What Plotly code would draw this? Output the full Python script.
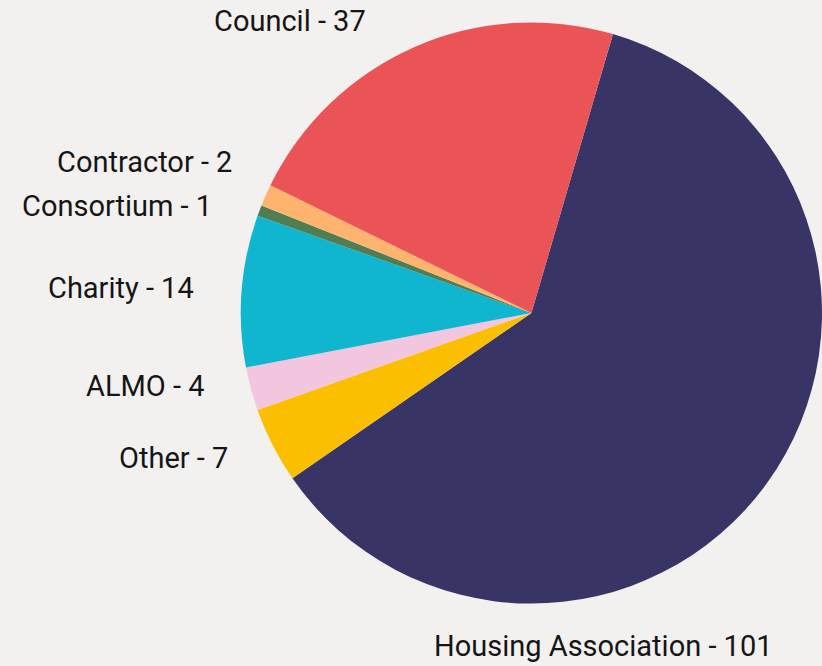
import plotly.graph_objects as go

# slice data, clockwise from the Housing Association slice
categories = ["Housing Association", "Other", "ALMO", "Charity", "Consortium", "Contractor", "Council"]
counts = [101, 7, 4, 14, 1, 2, 37]
slice_colors = ["#383465", "#FBBF00", "#F2C6DE", "#10B6CF", "#507D52", "#FEB46E", "#EB5456"]

W, H = 822, 666
BG = "#F2F1F0"

# label anchor points in pixels (x, y, xanchor)
label_pos = {
    "Housing Association": (603, 646, "center"),
    "Other": (230, 458, "right"),
    "ALMO": (207, 386, "right"),
    "Charity": (196, 288, "right"),
    "Consortium": (214, 206, "right"),
    "Contractor": (234, 162, "right"),
    "Council": (368, 21, "right"),
}

fig = go.Figure(
    go.Pie(
        labels=categories,
        values=counts,
        marker=dict(colors=slice_colors, line=dict(width=0)),
        sort=False,
        direction="clockwise",
        rotation=16.3,
        textinfo="none",
        hoverinfo="label+value",
        showlegend=False,
        domain=dict(x=[0.293, 1.0], y=[1 - 606 / H, 1 - 20 / H]),
    )
)

for cat, n in zip(categories, counts):
    px, py, anchor = label_pos[cat]
    fig.add_annotation(
        x=px / W,
        y=1 - py / H,
        xref="paper",
        yref="paper",
        xanchor=anchor,
        yanchor="middle",
        text=f"{cat} - {n}",
        showarrow=False,
        font=dict(family="Roboto", size=29, color="#151515"),
    )

fig.update_layout(
    width=W,
    height=H,
    margin=dict(l=0, r=0, t=0, b=0),
    paper_bgcolor=BG,
    plot_bgcolor=BG,
)

# drop the default page margin so the figure fills the window
fig.write_html(
    "out.html",
    config={"displayModeBar": False},
    post_script="document.body.style.margin='0';document.body.style.overflow='hidden';",
)
